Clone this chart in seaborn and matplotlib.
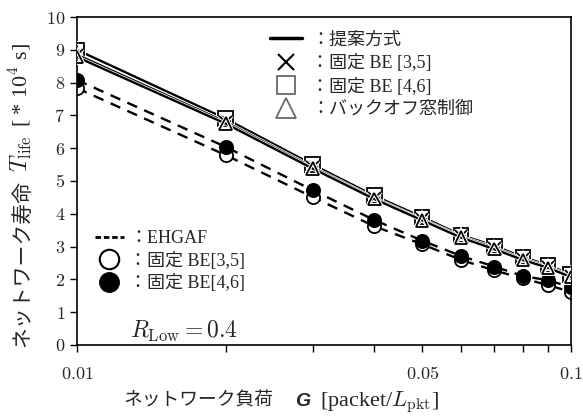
import matplotlib
matplotlib.use("Agg")
import matplotlib.pyplot as plt
import matplotlib.patheffects as pe
import seaborn as sns
from matplotlib.lines import Line2D
from matplotlib.ticker import FixedLocator, NullFormatter

# network load G [packet/L_pkt]
load = [0.01, 0.02, 0.03, 0.04, 0.05, 0.06, 0.07, 0.08, 0.09, 0.1]

# proposed scheme (solid lines)
prop_be46 = [9.00, 6.90, 5.50, 4.55, 3.90, 3.35, 3.02, 2.68, 2.43, 2.15]
prop_be35 = [8.85, 6.80, 5.42, 4.48, 3.83, 3.30, 2.96, 2.62, 2.38, 2.10]
prop_bo = [8.78, 6.75, 5.38, 4.45, 3.80, 3.27, 2.92, 2.59, 2.35, 2.07]

# EHGAF (dashed lines)
ehgaf_be46 = [8.08, 6.04, 4.72, 3.81, 3.18, 2.71, 2.39, 2.10, 1.97, 1.76]
ehgaf_be35 = [7.83, 5.79, 4.51, 3.62, 3.07, 2.59, 2.27, 2.03, 1.82, 1.62]

xtick_vals = [0.01, 0.05, 0.1]
xtick_labels = ["0.01", "0.05", "0.1"]
ytick_vals = list(range(0, 11))

sns.set_style("ticks")
plt.rcParams["font.family"] = ["Liberation Serif", "Noto Sans CJK JP", "DejaVu Sans"]
plt.rcParams["mathtext.fontset"] = "cm"
JP = ["Noto Sans CJK JP", "DejaVu Sans"]

W, H = 583, 416
fig, ax = plt.subplots(figsize=(W / 100, H / 100), dpi=100)
fig.subplots_adjust(left=0.132, right=0.979, bottom=0.171, top=0.959)

halo = [pe.Stroke(linewidth=2.8, foreground="white"), pe.Normal()]
solid_kw = dict(color="black", lw=1.7, path_effects=halo, markeredgecolor="black",
                markeredgewidth=1.3)
sns.lineplot(x=load, y=prop_be46, ax=ax, marker="s", markersize=10.5,
             markerfacecolor="none", zorder=4, **solid_kw)
sns.lineplot(x=load, y=prop_be35, ax=ax, marker="x", markersize=9, zorder=5, **solid_kw)
sns.lineplot(x=load, y=prop_bo, ax=ax, marker="^", markersize=9,
             markerfacecolor="none", zorder=6, **solid_kw)

dash_kw = dict(color="black", lw=1.7, linestyle=(0, (4.5, 3.3)),
               markeredgecolor="black", markeredgewidth=1.3, markersize=9.5)
sns.lineplot(x=load, y=ehgaf_be35, ax=ax, marker="o", markerfacecolor="white",
             zorder=2, **dash_kw)
sns.lineplot(x=load, y=ehgaf_be46, ax=ax, marker="o", markerfacecolor="black",
             zorder=3, **dash_kw)

ax.set_xscale("log")
ax.set_xlim(0.01, 0.1)
ax.set_ylim(0, 10)
ax.xaxis.set_minor_locator(FixedLocator(load))
ax.xaxis.set_minor_formatter(NullFormatter())
ax.set_xticks(xtick_vals)
ax.set_xticklabels(["$" + s + "$" for s in xtick_labels])
ax.set_yticks(ytick_vals)
ax.set_yticklabels(["$%d$" % v for v in ytick_vals])
ax.tick_params(axis="both", which="both", direction="out", length=5, width=1,
               labelsize=13, color="black")
ax.tick_params(axis="x", which="major", pad=10)
for s in ax.spines.values():
    s.set_linewidth(1.2)
    s.set_color("black")

ax.text(0.107, 0.02, "$R_{\\mathrm{Low}}=0.4$", transform=ax.transAxes, fontsize=17)

h_top = [
    Line2D([], [], color="black", lw=2.5),
    Line2D([], [], color="black", marker="x", ls="none", markersize=11, markeredgewidth=1.5),
    Line2D([], [], color="dimgray", marker="s", ls="none", markersize=13,
           markerfacecolor="none", markeredgewidth=1.3),
    Line2D([], [], color="dimgray", marker="^", ls="none", markersize=14,
           markerfacecolor="none", markeredgewidth=1.3),
]
l_top = ["：提案方式", "：固定 BE [3,5]", "：固定 BE [4,6]", "：バックオフ窓制御"]
leg1 = ax.legend(h_top, l_top, loc="upper left", bbox_to_anchor=(0.39, 0.955),
                 frameon=False, fontsize=13, handlelength=1.8, handletextpad=0.5,
                 labelspacing=0.3, borderaxespad=0.0, borderpad=0.0)
ax.add_artist(leg1)

h_bot = [
    Line2D([], [], color="black", lw=2, linestyle=(0, (2, 1))),
    Line2D([], [], color="black", marker="o", ls="none", markersize=14,
           markerfacecolor="white", markeredgewidth=1.5),
    Line2D([], [], color="black", marker="o", ls="none", markersize=14,
           markerfacecolor="black"),
]
l_bot = ["：EHGAF", "：固定 BE[3,5]", "：固定 BE[4,6]"]
ax.legend(h_bot, l_bot, loc="upper left", bbox_to_anchor=(0.036, 0.35),
          frameon=False, fontsize=13, handlelength=1.6, handletextpad=0.3,
          labelspacing=0.25, borderaxespad=0.0, borderpad=0.0)

# axis labels: Japanese and math parts set side by side (mathtext has no CJK)
renderer = fig.canvas.get_renderer()


def place(parts, x0, y0, rotation):
    px, py = x0, y0
    for text, kw, gap in parts:
        t = fig.text(px / W, py / H, text, rotation=rotation, rotation_mode="anchor",
                     ha="left", va="baseline", **kw)
        bb = t.get_window_extent(renderer)
        if rotation == 0:
            px = bb.x1 + gap
        else:
            py = bb.y1 + gap


place([("ネットワーク負荷", dict(family=JP, fontsize=13.5), 22),
       ("G", dict(family=["Liberation Sans"], style="italic", weight="bold",
                  fontsize=14), 10),
       ("[packet/$L_{\\mathrm{pkt}}$]", dict(fontsize=16), 0)],
      123, 10, 0)
place([("ネットワーク寿命", dict(family=JP, fontsize=15), 8),
       ("$T_{\\mathrm{life}}$", dict(fontsize=17), 8),
       ("[ * 10$^4$ s]", dict(fontsize=16), 0)],
      28, 69, 90)

fig.savefig("out.png", dpi=100)
